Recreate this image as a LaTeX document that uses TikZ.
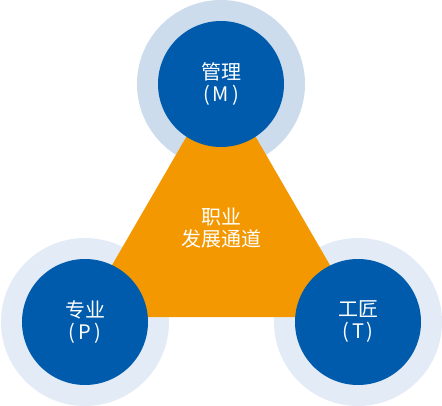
\documentclass[tikz,border=0pt]{standalone}
\usepackage{fontspec}
\newfontfamily\cjk{Noto Sans CJK SC}
\usepackage{tikz}

\definecolor{hubblue}{HTML}{005BAC}
\definecolor{ringtop}{HTML}{CCDCEC}
\definecolor{ringlow}{HTML}{E3ECF6}
\definecolor{pathorange}{HTML}{F39800}

\newcommand{\paren}[1]{(\kern3pt#1\kern3pt)}

\begin{document}
\begin{tikzpicture}[x=1pt,y=1pt,
  ring/.style={circle,minimum size=168pt,inner sep=0pt},
  hub/.style={circle,fill=hubblue,minimum size=126pt,inner sep=0pt,
    text=white,align=center,font=\cjk\fontsize{20}{22}\selectfont}]
\useasboundingbox (0,0) rectangle (442,405);
\clip (0,0) rectangle (442,405);

\node[ring,fill=ringtop] (mring) at (221,321) {};
\node[ring,fill=ringlow] (pring) at (85,83) {};
\node[ring,fill=ringlow] (tring) at (358,83) {};

\fill[pathorange] (221,328) -- (82,88) -- (360,88) -- cycle;

\node[hub] (m) at (221,321) {管理\\\paren{M}};
\node[hub] (p) at (85,83) {专业\\\paren{P}};
\node[hub] (t) at (358,83) {工匠\\\paren{T}};

\node[text=white,align=center,font=\cjk\fontsize{20}{22}\selectfont] (career) at (221,177) {职业\\发展通道};

\end{tikzpicture}
\end{document}
